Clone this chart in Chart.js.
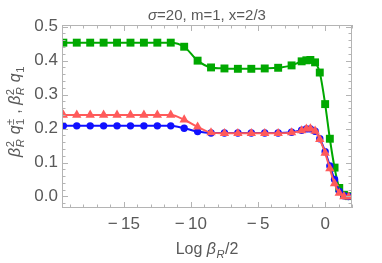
<!DOCTYPE html>
<html>
<head>
<meta charset="utf-8">
<script src="https://cdn.jsdelivr.net/npm/chart.js@4.4.0/dist/chart.umd.min.js"></script>
<style>
  html, body { margin: 0; padding: 0; background: #fff; }
</style>
</head>
<body>
<canvas id="myChart" width="382" height="263"></canvas>
<script>
// values
const logBeta = [-19.5, -18.5, -17.5, -16.5, -15.5, -14.5, -13.5, -12.5, -11.5, -10.5, -9.5, -8.5, -7.5, -6.5, -5.5, -4.5, -3.5, -2.5,
                 -1.75, -1.4, -1.1, -0.75, -0.4, 0, 0.35, 0.7, 1.05, 1.4, 1.75];
const qOne   = [0.453, 0.453, 0.453, 0.453, 0.453, 0.453, 0.453, 0.453, 0.453, 0.441, 0.400, 0.380, 0.377, 0.376, 0.376, 0.377, 0.379, 0.386,
                0.398, 0.401, 0.402, 0.395, 0.365, 0.272, 0.170, 0.085, 0.025, 0.005, 0.001];
const qPlus  = [0.208, 0.208, 0.208, 0.208, 0.208, 0.208, 0.208, 0.208, 0.208, 0.201, 0.191, 0.187, 0.187, 0.187, 0.187, 0.187, 0.187, 0.189,
                0.195, 0.199, 0.199, 0.192, 0.170, 0.132, 0.090, 0.050, 0.015, 0.002, 0.000];
const qMinus = [0.240, 0.240, 0.240, 0.240, 0.240, 0.240, 0.240, 0.240, 0.240, 0.226, 0.205, 0.188, 0.186, 0.186, 0.186, 0.186, 0.186, 0.188,
                0.194, 0.199, 0.200, 0.193, 0.168, 0.128, 0.082, 0.038, 0.010, 0.000, -0.001];
const xTicks = [-15, -10, -5, 0];
const yTicks = [0.0, 0.1, 0.2, 0.3, 0.4, 0.5];

const FONT = '"Liberation Sans", Arial, sans-serif';
const TEXT = '#595959';
const FRAME = '#b4b4b4';

const pts = (ys) => logBeta.map((x, i) => ({ x: x, y: ys[i] }));

// text with sub/superscripts, drawn centred at cx
function drawRich(ctx, segs, cx, baseY, size) {
    const f = (it, s) => (it ? 'italic ' : '') + s + 'px ' + FONT;
    const small = size * 0.7;
    let total = 0;
    const parts = segs.map(s => {
        let w = 0;
        if (s.t !== undefined) { ctx.font = f(s.it, size); w = ctx.measureText(s.t).width; }
        else {
            let a = 0, b = 0;
            if (s.sup) { ctx.font = f(s.supIt, small); a = ctx.measureText(s.sup).width; }
            if (s.sub) { ctx.font = f(s.subIt, small); b = ctx.measureText(s.sub).width; }
            w = Math.max(a, b) + 1;
        }
        total += w;
        return Object.assign({ w: w }, s);
    });
    let x = cx - total / 2;
    ctx.fillStyle = TEXT;
    ctx.textAlign = 'left';
    ctx.textBaseline = 'alphabetic';
    parts.forEach(p => {
        if (p.t !== undefined) { ctx.font = f(p.it, size); ctx.fillText(p.t, x, baseY); }
        else {
            if (p.sup) { ctx.font = f(p.supIt, small); ctx.fillText(p.sup, x + 0.5, baseY - size * 0.4); }
            if (p.sub) { ctx.font = f(p.subIt, small); ctx.fillText(p.sub, x + 0.5, baseY + size * 0.22); }
        }
        x += p.w;
    });
}

const frameAndTitles = {
    id: 'frameAndTitles',
    afterDraw(chart) {
        const ctx = chart.ctx;
        const a = chart.chartArea;
        const xs = chart.scales.x, ys = chart.scales.y;
        ctx.save();
        ctx.strokeStyle = FRAME;
        ctx.lineWidth = 1;
        ctx.strokeRect(a.left + 0.5, a.top + 0.5, a.right - a.left - 1, a.bottom - a.top - 1);
        ctx.beginPath();
        // x ticks, every unit, long ones at labels
        for (let v = Math.ceil(xs.min); v <= xs.max; v++) {
            const px = Math.round(xs.getPixelForValue(v)) + 0.5;
            const len = xTicks.includes(v) ? 6 : 3.5;
            ctx.moveTo(px, a.bottom); ctx.lineTo(px, a.bottom - len);
            ctx.moveTo(px, a.top); ctx.lineTo(px, a.top + len);
        }
        // y ticks every 0.02
        for (let k = Math.ceil(ys.min / 0.02); k * 0.02 <= ys.max + 1e-9; k++) {
            const v = k * 0.02;
            const py = Math.round(ys.getPixelForValue(v)) + 0.5;
            const len = (k % 5 === 0) ? 6 : 3.5;
            ctx.moveTo(a.left, py); ctx.lineTo(a.left + len, py);
            ctx.moveTo(a.right, py); ctx.lineTo(a.right - len, py);
        }
        ctx.stroke();

        const mid = (a.left + a.right) / 2;
        drawRich(ctx, [{ t: 'σ', it: true }, { t: '=20, m=1, x=2/3' }], mid, 20, 15);
        drawRich(ctx, [{ t: 'Log ' }, { t: 'β', it: true }, { sub: 'R', subIt: true }, { t: '/2' }], mid, 254, 16);

        ctx.translate(20, (a.top + a.bottom) / 2 - 5);
        ctx.rotate(-Math.PI / 2);
        drawRich(ctx, [
            { t: 'β', it: true }, { sup: '2', sub: 'R', subIt: true }, { t: ' ' },
            { t: 'q', it: true }, { sup: '±', sub: '1' }, { t: ' , ' },
            { t: 'β', it: true }, { sup: '2', sub: 'R', subIt: true }, { t: ' ' },
            { t: 'q', it: true }, { sub: '1' }
        ], 0, 0, 16);
        ctx.restore();
    }
};

const line = (label, ys, color, style, radius) => ({
    label: label,
    data: pts(ys),
    borderColor: color,
    backgroundColor: color,
    borderWidth: 2,
    pointStyle: style,
    pointRadius: radius,
    pointHoverRadius: radius,
    pointBorderWidth: 0,
    cubicInterpolationMode: 'monotone'
});

// index 0 is painted last (on top)
new Chart(document.getElementById('myChart').getContext('2d'), {
    type: 'line',
    data: {
        datasets: [
            line('q1-', qMinus, '#ff5a5a', 'triangle', 5.4),
            line('q1+', qPlus, '#1010ff', 'circle', 3.7),
            line('q1', qOne, '#00a800', 'rect', 5.6)
        ]
    },
    options: {
        responsive: false,
        animation: false,
        devicePixelRatio: 1,
        layout: { padding: { top: 25, right: 30, left: 0, bottom: 0 } },
        plugins: { legend: { display: false }, tooltip: { enabled: false } },
        scales: {
            x: {
                type: 'linear',
                min: -19.6,
                max: 2.0,
                afterBuildTicks: s => { s.ticks = xTicks.map(v => ({ value: v })); },
                afterFit: s => { s.height = 55; },
                grid: { display: false, drawTicks: false },
                border: { display: false },
                ticks: {
                    color: TEXT,
                    font: { size: 17, family: FONT },
                    padding: 6,
                    maxRotation: 0,
                    autoSkip: false,
                    callback: v => v < 0 ? '\u2212\u2009' + Math.abs(v) : String(v)
                }
            },
            y: {
                min: -0.034,
                max: 0.505,
                afterBuildTicks: s => { s.ticks = yTicks.map(v => ({ value: v })); },
                afterFit: s => { s.width = 62; },
                grid: { display: false, drawTicks: false },
                border: { display: false },
                ticks: {
                    color: TEXT,
                    font: { size: 17, family: FONT },
                    padding: 4,
                    callback: v => v.toFixed(1)
                }
            }
        }
    },
    plugins: [frameAndTitles]
});
</script>
</body>
</html>
